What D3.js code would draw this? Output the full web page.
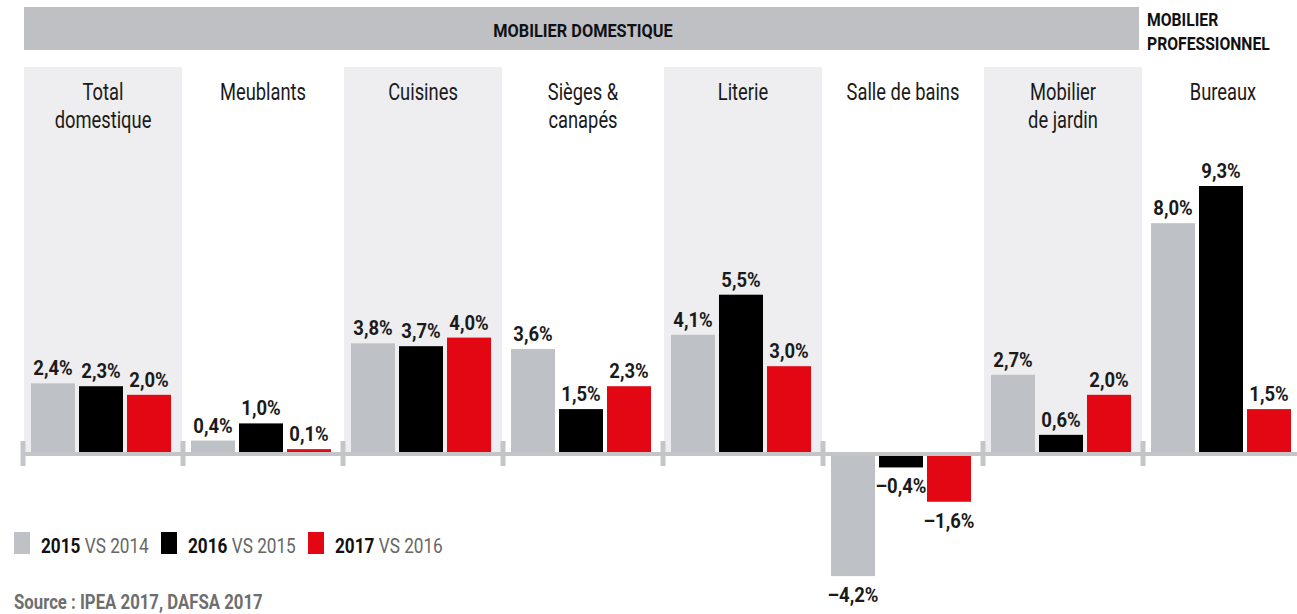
<!DOCTYPE html>
<html>
<head>
<meta charset="utf-8">
<script src="https://cdn.jsdelivr.net/npm/d3@7"></script>
<style>
  body { margin: 0; background: #fff; }
  svg text { font-family: Roboto, "Noto Sans", sans-serif; }
</style>
</head>
<body>
<div id="chart"></div>
<script>
// data
var categories = ["Total domestique", "Meublants", "Cuisines", "Sièges & canapés",
                  "Literie", "Salle de bains", "Mobilier de jardin", "Bureaux"];
var catLines = [["Total", "domestique"], ["Meublants"], ["Cuisines"], ["Sièges &", "canapés"],
                ["Literie"], ["Salle de bains"], ["Mobilier", "de jardin"], ["Bureaux"]];
var series = ["2015", "2016", "2017"];
var seriesRef = ["2014", "2015", "2016"];
var v2015 = [2.4, 0.4, 3.8, 3.6, 4.1, -4.2, 2.7, 8.0];
var v2016 = [2.3, 1.0, 3.7, 1.5, 5.5, -0.4, 0.6, 9.3];
var v2017 = [2.0, 0.1, 4.0, 2.3, 3.0, -1.6, 2.0, 1.5];
var colors = ["#bec1c5", "#000000", "#e30613"];

var width = 1297, height = 614;
var axisW = 4;

var svg = d3.select("#chart").append("svg")
    .attr("width", width)
    .attr("height", height);

// scales
var x = d3.scaleBand().domain(categories).range([23, 1303]);
var xs = d3.scaleBand().domain(series).range([8, 148]).paddingInner(1 / 12);
var y = d3.scaleLinear().domain([0, 10]).range([452, 452 - 286]);

var fmt = d3.formatLocale({decimal: ",", thousands: " ", grouping: [3], currency: ["", "€"], minus: "–"}).format(".1f");

// condensed look: no narrow font installed, so squeeze horizontally
function place(sel, px, py, sx) {
    return sel.attr("transform", "translate(" + px + "," + py + ") scale(" + sx + ",1)");
}

// shaded panels (every other category)
svg.selectAll("rect.panel")
    .data(categories.filter(function(d, i) { return i % 2 === 0; }))
    .enter().append("rect")
    .attr("class", "panel")
    .attr("x", function(d) { return x(d) + 1; })
    .attr("y", 67)
    .attr("width", x.bandwidth() - 2)
    .attr("height", y(0) - 67)
    .attr("fill", "#eeeef0");

// header bar
svg.append("rect")
    .attr("x", x(categories[0]) + 1)
    .attr("y", 7)
    .attr("width", x("Bureaux") - 4 - x(categories[0]) - 1)
    .attr("height", 43)
    .attr("fill", "#bec0c4");

place(svg.append("text"), (x(categories[0]) + x("Bureaux")) / 2, 36.5, 0.86)
    .attr("text-anchor", "middle")
    .attr("font-size", 19)
    .attr("font-weight", "bold")
    .attr("fill", "#111")
    .text("MOBILIER DOMESTIQUE");

var pro = place(svg.append("text"), x("Bureaux") + 4, 0, 0.85)
    .attr("font-size", 18.5)
    .attr("font-weight", "bold")
    .attr("fill", "#111");
pro.append("tspan").attr("x", 0).attr("y", 26).text("MOBILIER");
pro.append("tspan").attr("x", 0).attr("y", 50.5).text("PROFESSIONNEL");

// category labels
categories.forEach(function(c, i) {
    var t = place(svg.append("text"), x(c) + x.bandwidth() / 2, 0, 0.78)
        .attr("text-anchor", "middle")
        .attr("font-size", 23.5)
        .attr("fill", "#1a1a1a");
    catLines[i].forEach(function(line, j) {
        t.append("tspan")
            .attr("x", 0)
            .attr("y", 100 + j * 28)
            .text(line);
    });
});

// bars
var allVals = [v2015, v2016, v2017];
var bars = [];
categories.forEach(function(c, i) {
    series.forEach(function(s, k) {
        bars.push({cat: c, s: s, k: k, v: allVals[k][i]});
    });
});

var g = svg.append("g");

g.selectAll("rect.bar").data(bars).enter().append("rect")
    .attr("class", "bar")
    .attr("x", function(d) { return x(d.cat) + xs(d.s); })
    .attr("y", function(d) { return d.v >= 0 ? y(d.v) : y(0) + axisW; })
    .attr("width", xs.bandwidth())
    .attr("height", function(d) { return Math.abs(y(d.v) - y(0)); })
    .attr("fill", function(d) { return colors[d.k]; });

// axis line and ticks
svg.append("rect")
    .attr("x", 21)
    .attr("y", y(0))
    .attr("width", width - 21)
    .attr("height", axisW)
    .attr("fill", "#c3c5c9");

svg.selectAll("rect.tick").data(categories).enter().append("rect")
    .attr("class", "tick")
    .attr("x", function(d) { return x(d) - 2.5; })
    .attr("y", 441)
    .attr("width", 5)
    .attr("height", 25)
    .attr("fill", "#c3c5c9");

// value labels
g.selectAll("text.val").data(bars).enter().append("text")
    .attr("class", "val")
    .attr("transform", function(d) {
        var px = x(d.cat) + xs(d.s) + xs.bandwidth() / 2;
        var py = d.v >= 0 ? y(d.v) - 8 : y(0) + axisW + (y(d.v) - y(0)) + 26;
        return "translate(" + px + "," + py + ") scale(0.88,1)";
    })
    .attr("text-anchor", "middle")
    .attr("font-size", 21)
    .attr("font-weight", "bold")
    .attr("fill", "#1a1a1a")
    .text(function(d) { return fmt(d.v) + "%"; });

// legend
var legX = [14, 161, 308];
series.forEach(function(s, k) {
    svg.append("rect")
        .attr("x", legX[k])
        .attr("y", 532)
        .attr("width", 16)
        .attr("height", 22)
        .attr("fill", colors[k]);
    var t = place(svg.append("text"), legX[k] + 27, 553, 0.86)
        .attr("font-size", 20);
    t.append("tspan").attr("font-weight", "bold").attr("fill", "#111").text(s);
    t.append("tspan").attr("fill", "#666").text(" VS " + seriesRef[k]);
});

// source
place(svg.append("text"), 14, 609, 0.86)
    .attr("font-size", 19.5)
    .attr("font-weight", "bold")
    .attr("fill", "#6e6e6e")
    .text("Source : IPEA 2017, DAFSA 2017");
</script>
</body>
</html>
